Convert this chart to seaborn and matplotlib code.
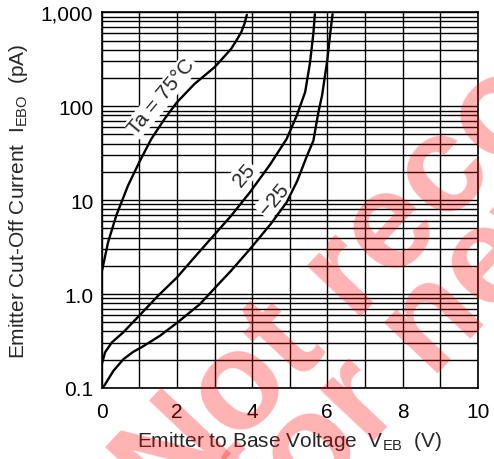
import matplotlib
matplotlib.use("Agg")
import matplotlib.pyplot as plt
import numpy as np
import pandas as pd
import seaborn as sns
from matplotlib.ticker import LogLocator, NullFormatter

# ---- data ----
x_75 = [0, 0.17, 0.39, 0.70, 1.0, 1.32, 1.67, 2.0, 2.47, 3.0, 3.2, 3.44, 3.6, 3.71, 3.8, 3.86]
i_75 = [1.71, 3.57, 6.9, 14.3, 25.4, 44.9, 73, 110, 173, 260, 318, 407, 515, 612, 760, 940]

x_25 = [0, 0.02, 0.09, 0.27, 0.57, 1.0, 1.5, 2.0, 2.5, 3.0, 3.44, 3.94, 4.48,
        4.92, 5.19, 5.41, 5.54, 5.63, 5.67]
i_25 = [0.18, 0.19, 0.24, 0.306, 0.39, 0.59, 0.96, 1.5, 2.55, 4.3, 6.8, 12.1, 24,
        45, 80, 141, 290, 600, 955]

x_m25 = [0, 0.03, 0.31, 0.58, 0.84, 1.05, 1.55, 2.02, 2.61, 3.0, 3.44, 3.94, 4.5,
         4.92, 5.2, 5.45, 5.63, 5.76, 5.86, 5.93, 6.0, 6.07, 6.14]
i_m25 = [0.1, 0.1, 0.152, 0.203, 0.243, 0.27, 0.36, 0.50, 0.78, 1.15, 1.77, 3.0, 5.6,
         9.5, 16, 29, 43, 85, 130, 200, 310, 560, 955]

curve_names = ["75", "25", "-25"]

x_ticks = [0, 1, 2, 3, 4, 5, 6, 7, 8, 9, 10]
x_tick_labels = ["0", "", "2", "", "4", "", "6", "", "8", "", "10"]
y_ticks = [0.1, 1, 10, 100, 1000]
y_tick_labels = ["0.1", "1.0", "10", "100", "1,000"]

curve_labels = ["Ta = 75°C", "25", "\u221225"]
label_x = [1.60, 3.78, 4.58]
label_y = [128, 18.8, 10.2]

x_title = r"Emitter to Base Voltage  $\mathregular{V_{EB}}$  (V)"
y_title = r"Emitter Cut-Off Current  $\mathregular{I_{EBO}}$  (pA)"
watermark_lines = ["Not recommended", "for new design"]

# ---- styling ----
sns.set_style("white")
plt.rcParams["font.family"] = ["Liberation Sans", "DejaVu Sans"]
plt.rcParams["mathtext.fontset"] = "custom"
plt.rcParams["mathtext.rm"] = "Liberation Sans"

df = pd.concat([
    pd.DataFrame({"V": x_75, "I": i_75, "curve": curve_names[0]}),
    pd.DataFrame({"V": x_25, "I": i_25, "curve": curve_names[1]}),
    pd.DataFrame({"V": x_m25, "I": i_m25, "curve": curve_names[2]}),
])

W, H = 494, 460
fig = plt.figure(figsize=(W / 100, H / 100), dpi=100)
L, R, T, B = 101.7, 477.7, 13.3, 389.0
ax = fig.add_axes([L / W, 1 - B / H, (R - L) / W, (B - T) / H])

sns.lineplot(data=df, x="V", y="I", hue="curve", units="curve", estimator=None,
             sort=False, palette=["black"] * 3, linewidth=1.7, legend=False, ax=ax)
for ln in ax.lines:
    ln.set_zorder(4)

FS = 15
ax.set_yscale("log")
ax.set_xlim(0, 10)
ax.set_ylim(0.1, 1000)
ax.set_xticks(x_ticks)
ax.set_xticklabels(x_tick_labels)
ax.set_yticks(y_ticks)
ax.set_yticklabels(y_tick_labels)
ax.yaxis.set_minor_locator(LogLocator(base=10, subs=np.arange(2, 10)))
ax.yaxis.set_minor_formatter(NullFormatter())
ax.tick_params(which="both", length=0, labelsize=FS, colors="black")
ax.tick_params(axis="x", pad=10)
ax.tick_params(axis="y", pad=6)
ax.grid(True, which="both", axis="y", color="black", linewidth=1.0)
ax.grid(True, which="major", axis="x", color="black", linewidth=1.0)
for s in ax.spines.values():
    s.set_color("black")
    s.set_linewidth(1.2)

ax.set_xlabel(x_title, fontsize=FS, labelpad=6)
ax.set_ylabel(y_title, fontsize=FS, labelpad=8)

for t, lx, ly in zip(curve_labels, label_x, label_y):
    ax.text(lx, ly, t, fontsize=FS, rotation=50, ha="center", va="center",
            rotation_mode="anchor", zorder=3,
            bbox=dict(facecolor="white", edgecolor="none", pad=1.0))

# watermark
ang = 46.6
fig.text(169 / W, 1 - 519 / H, watermark_lines[0], fontsize=100, fontweight="bold",
         color="red", alpha=0.3, rotation=ang, rotation_mode="anchor",
         ha="left", va="baseline", zorder=10)
fig.text(278 / W, 1 - 542 / H, watermark_lines[1], fontsize=100, fontweight="bold",
         color="red", alpha=0.3, rotation=ang, rotation_mode="anchor",
         ha="left", va="baseline", zorder=10)

fig.savefig("out.png", dpi=100)
